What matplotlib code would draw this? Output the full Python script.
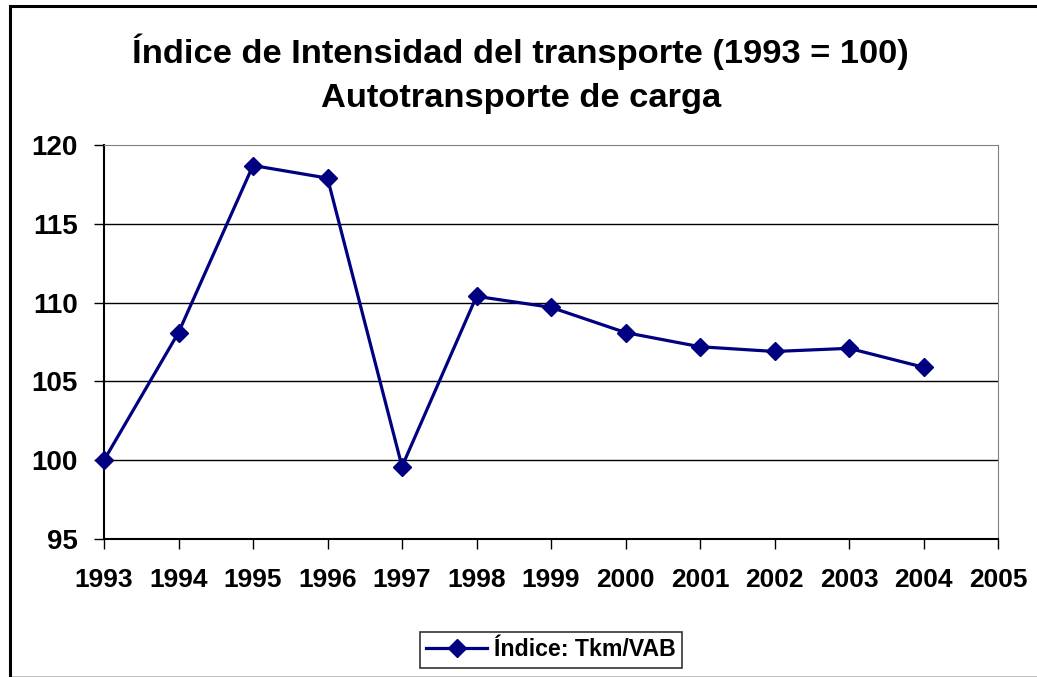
import matplotlib.pyplot as plt
from matplotlib.patches import Rectangle

plt.rcParams["font.family"] = ["Liberation Sans", "DejaVu Sans"]

# Índice Tkm/VAB, 1993 = 100
years = [1993, 1994, 1995, 1996, 1997, 1998, 1999, 2000, 2001, 2002, 2003, 2004]
indice = [100.0, 108.1, 118.7, 117.9, 99.6, 110.4, 109.7, 108.1, 107.2, 106.9, 107.1, 105.9]
x_ticks = list(range(1993, 2006))
y_ticks = [95, 100, 105, 110, 115, 120]

navy = "#000080"

fig = plt.figure(figsize=(10.37, 6.77), dpi=100)
fig.patch.set_facecolor("white")
ax = fig.add_axes([0.1003, 0.2038, 0.8621, 0.582])

ax.plot(years, indice, "-D", color=navy, lw=2.3, ms=9.5, label="Índice: Tkm/VAB", clip_on=False, zorder=3)

ax.set_xlim(1993, 2005)
ax.set_ylim(95, 120)
ax.set_xticks(x_ticks)
ax.set_yticks(y_ticks)
ax.tick_params(axis="x", labelsize=19, length=7, width=1, direction="out", pad=14)
ax.tick_params(axis="y", labelsize=20, length=7, width=1, direction="out", pad=12)
for lb in ax.get_xticklabels() + ax.get_yticklabels():
    lb.set_fontweight("bold")

for v in y_ticks[1:-1]:
    ax.axhline(v, color="black", lw=1, zorder=1)

ax.spines["left"].set_color("black")
ax.spines["bottom"].set_color("black")
ax.spines["left"].set_linewidth(1.5)
ax.spines["bottom"].set_linewidth(1.5)
ax.spines["top"].set_color("#808080")
ax.spines["right"].set_color("#808080")

fig.text(0.502, 1 - 52 / 677, "Índice de Intensidad del transporte (1993 = 100)",
         ha="center", va="center", fontsize=24.8, fontweight="bold")
fig.text(0.502, 1 - 98 / 677, "Autotransporte de carga",
         ha="center", va="center", fontsize=24.8, fontweight="bold")

leg = fig.legend(loc="center", bbox_to_anchor=(551 / 1037, 1 - 650 / 677),
                 prop={"weight": "bold", "size": 16.7}, frameon=True, fancybox=False,
                 edgecolor="black", handlelength=2.6, borderpad=0.3, handletextpad=0.3)
leg.get_frame().set_linewidth(1.2)

# chart border
fig.patches.append(Rectangle((9.5 / 1037, -0.01), 1.1, 1 - 6 / 677 + 0.01,
                             transform=fig.transFigure, fill=False, edgecolor="black", lw=2.2))
fig.patches.append(Rectangle((12 / 1037, 0), 1.0, 1.2 / 677,
                             transform=fig.transFigure, color="#c0c0c0", lw=0))

fig.savefig("out.png", dpi=100)
